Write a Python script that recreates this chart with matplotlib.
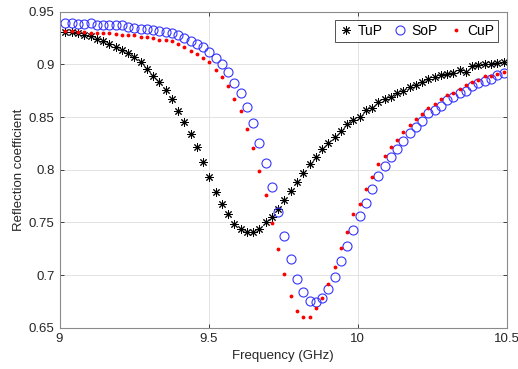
import numpy as np
import matplotlib
matplotlib.use("Agg")
import matplotlib.pyplot as plt

plt.rcParams['font.family'] = ['Liberation Sans', 'DejaVu Sans']

# frequency sweep (GHz), 71 points
freq = np.linspace(9.02, 10.49, 71)

tup = [0.9310, 0.9310, 0.9295, 0.9282, 0.9269, 0.9238, 0.9219, 0.9193, 0.9162, 0.9137,
       0.9105, 0.9067, 0.9020, 0.8956, 0.8893, 0.8830, 0.8757, 0.8669, 0.8558, 0.8450,
       0.8337, 0.8213, 0.8071, 0.7934, 0.7786, 0.7675, 0.7577, 0.7485, 0.7438, 0.7412,
       0.7412, 0.7435, 0.7507, 0.7552, 0.7628, 0.7708, 0.7798, 0.7884, 0.7972, 0.8055,
       0.8124, 0.8194, 0.8251, 0.8308, 0.8368, 0.8434, 0.8472, 0.8504, 0.8567, 0.8583,
       0.8646, 0.8669, 0.8693, 0.8726, 0.8750, 0.8785, 0.8804, 0.8836, 0.8861, 0.8883,
       0.8896, 0.8906, 0.8915, 0.8947, 0.8931, 0.8985, 0.8991, 0.9001, 0.9004, 0.9010,
       0.9021]

sop = [0.9396, 0.9396, 0.9383, 0.9383, 0.9388, 0.9377, 0.9374, 0.9371, 0.9371, 0.9374,
       0.9358, 0.9345, 0.9339, 0.9333, 0.9326, 0.9320, 0.9307, 0.9298, 0.9276, 0.9246,
       0.9222, 0.9193, 0.9165, 0.9118, 0.9058, 0.9004, 0.8925, 0.8826, 0.8726, 0.8598,
       0.8439, 0.8257, 0.8067, 0.7832, 0.7599, 0.7369, 0.7156, 0.6960, 0.6840, 0.6757,
       0.6745, 0.6780, 0.6866, 0.6982, 0.7137, 0.7277, 0.7428, 0.7558, 0.7687, 0.7815,
       0.7944, 0.8031, 0.8116, 0.8192, 0.8273, 0.8346, 0.8409, 0.8466, 0.8536, 0.8567,
       0.8605, 0.8662, 0.8693, 0.8726, 0.8750, 0.8795, 0.8820, 0.8845, 0.8858, 0.8899,
       0.8921]

cup = [0.9317, 0.9317, 0.9307, 0.9307, 0.9301, 0.9301, 0.9295, 0.9295, 0.9288, 0.9282,
       0.9276, 0.9276, 0.9263, 0.9257, 0.9250, 0.9231, 0.9231, 0.9219, 0.9193, 0.9165,
       0.9127, 0.9096, 0.9065, 0.9023, 0.8947, 0.8883, 0.8792, 0.8669, 0.8555, 0.8387,
       0.8202, 0.7986, 0.7756, 0.7495, 0.7245, 0.7006, 0.6802, 0.6663, 0.6603, 0.6606,
       0.6683, 0.6780, 0.6914, 0.7080, 0.7255, 0.7407, 0.7577, 0.7675, 0.7815, 0.7928,
       0.8052, 0.8131, 0.8213, 0.8282, 0.8358, 0.8425, 0.8486, 0.8529, 0.8586, 0.8624,
       0.8672, 0.8705, 0.8731, 0.8764, 0.8804, 0.8833, 0.8852, 0.8885, 0.8890, 0.8909,
       0.8923]

xticks = [9, 9.5, 10, 10.5]
xticklabels = ['9', '9.5', '10', '10.5']
yticks = [0.65, 0.7, 0.75, 0.8, 0.85, 0.9, 0.95]
yticklabels = ['0.65', '0.7', '0.75', '0.8', '0.85', '0.9', '0.95']

fig = plt.figure(figsize=(5.18, 3.69), dpi=100)
ax = fig.add_axes([0.1149, 0.1119, 0.8629, 0.8564])

ax.plot(freq, tup, linestyle='none', marker=(8, 2, 0), markersize=6,
        markeredgewidth=0.7, color='black', label='TuP')
ax.plot(freq, sop, linestyle='none', marker='o', markersize=6.5,
        markerfacecolor='none', markeredgewidth=0.8, color='#3535ff', label='SoP')
ax.plot(freq, cup, linestyle='none', marker='.', markersize=3.5,
        color='red', label='CuP')

ax.set_xlim(9, 10.5)
ax.set_ylim(0.65, 0.95)
ax.set_xticks(xticks)
ax.set_xticklabels(xticklabels)
ax.set_yticks(yticks)
ax.set_yticklabels(yticklabels)
ax.tick_params(direction='in', top=True, right=True, labelsize=9.5,
               colors='#262626', length=3, width=0.6)
ax.grid(True, color='#e3e3e3', linewidth=0.7)
ax.set_axisbelow(True)
for s in ax.spines.values():
    s.set_color('#8a8a8a')
    s.set_linewidth(0.8)

ax.set_xlabel('Frequency (GHz)', fontsize=9.5, color='#262626', labelpad=4)
ax.set_ylabel('Reflection coefficient', fontsize=9.5, color='#262626', labelpad=3)

leg = ax.legend(loc='upper right', ncol=3, fontsize=10, frameon=True, fancybox=False,
                handlelength=1.0, handletextpad=0.3, columnspacing=0.8,
                borderpad=0.3, borderaxespad=0.6)
leg.get_frame().set_edgecolor('#262626')
leg.get_frame().set_linewidth(0.7)

fig.savefig('out.png', dpi=100)
